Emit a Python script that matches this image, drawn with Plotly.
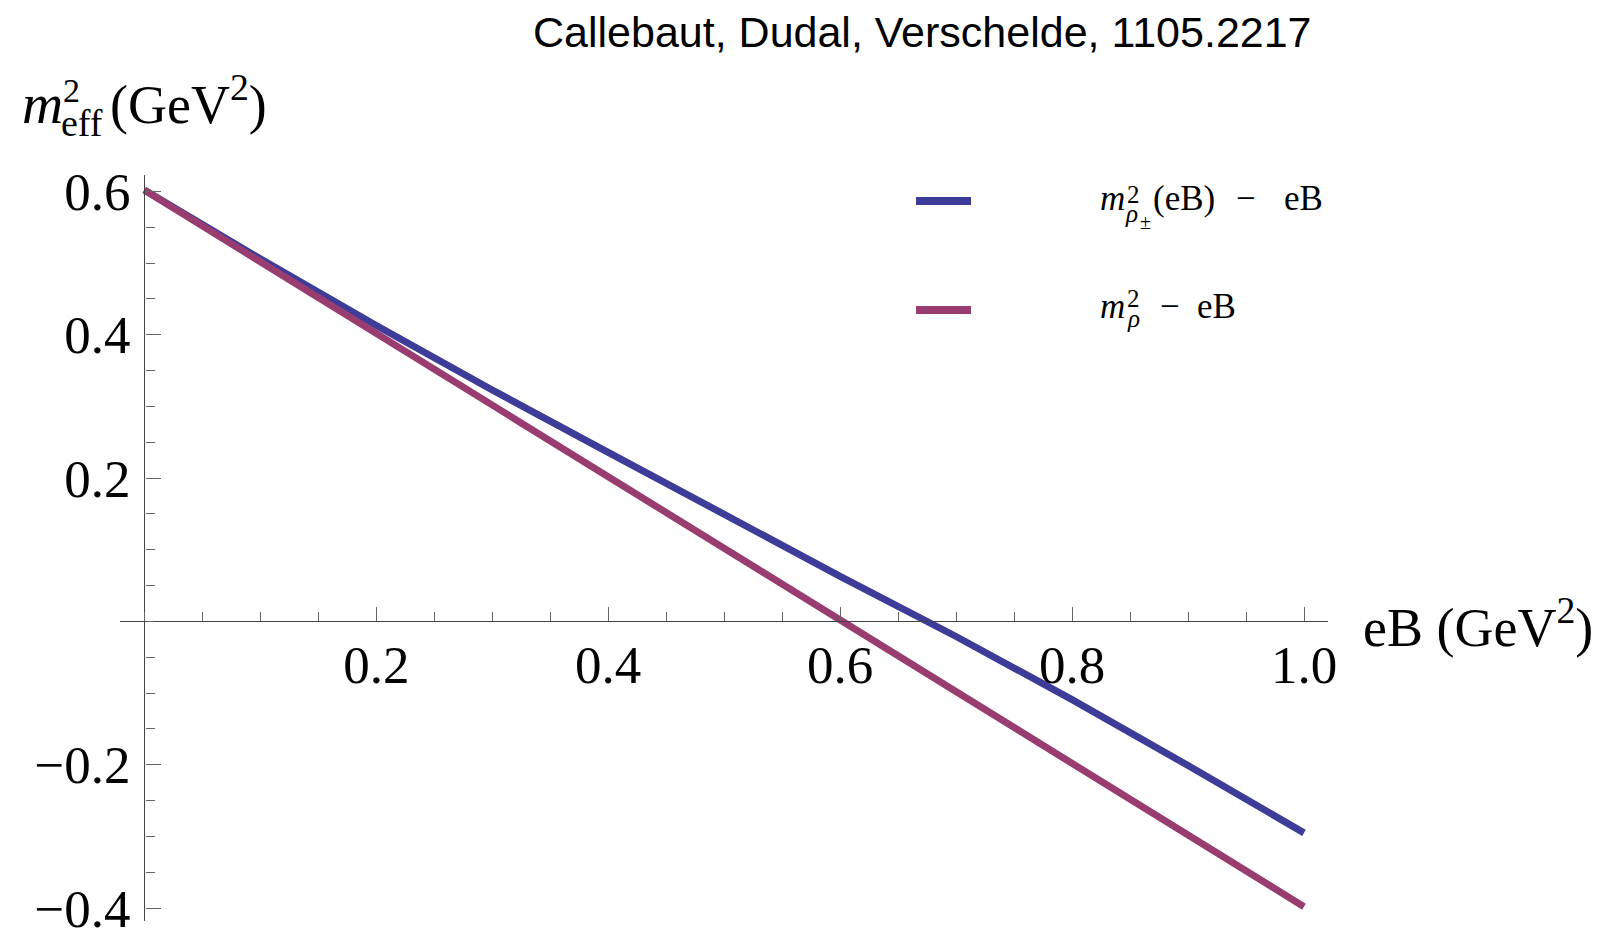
import plotly.graph_objects as go

# ---------------- data ----------------
eB = [0.0, 0.1, 0.2, 0.3, 0.4, 0.5, 0.6, 0.7, 0.8, 0.9, 1.0]
m_rho_pm_minus_eB = [0.602, 0.506, 0.413, 0.323, 0.236, 0.149, 0.063, -0.021, -0.109, -0.201, -0.295]
m_rho_minus_eB = [0.602, 0.502, 0.402, 0.302, 0.202, 0.102, 0.002, -0.098, -0.198, -0.298, -0.398]

x_tickvals = [0.2, 0.4, 0.6, 0.8, 1.0]
x_ticktext = ["0.2", "0.4", "0.6", "0.8", "1.0"]
y_tickvals = [-0.4, -0.2, 0.2, 0.4, 0.6]
y_ticktext = ["\u22120.4", "\u22120.2", "0.2", "0.4", "0.6"]

title_text = "Callebaut, Dudal, Verschelde, 1105.2217"

BLUE = "#3d3d99"
MAGENTA = "#993d71"
SERIF = "Liberation Serif"
SANS = "Liberation Sans"

XR = [-0.021, 1.0207]
YR = [-0.418, 0.623]

# plot area in pixels
PL, PR, PT, PB = 120, 1328, 175, 921
W, H = 1602, 929


def fx(px):
    return (px - PL) / (PR - PL)


def fy(py):
    return (PB - py) / (PB - PT)


fig = go.Figure()
fig.add_trace(go.Scatter(x=eB, y=m_rho_pm_minus_eB, mode="lines",
                         line=dict(color=BLUE, width=7), hoverinfo="skip"))
fig.add_trace(go.Scatter(x=eB, y=m_rho_minus_eB, mode="lines",
                         line=dict(color=MAGENTA, width=7), hoverinfo="skip"))

annotations = []


def txt(s, left, base, size, family=SERIF, desc=0.216, anchor="left"):
    annotations.append(dict(
        text=s, xref="paper", yref="paper", x=fx(left), y=fy(base + desc * size),
        xanchor=anchor, yanchor="bottom", showarrow=False, borderpad=0, borderwidth=0,
        font=dict(family=family, size=size, color="black")))


# title
txt(title_text, 922, 47, 43, family=SANS, desc=0.212, anchor="center")

# y-axis label
txt("<i>m</i>", 22, 123, 57)
txt("2", 63, 102, 34)
txt("eff", 61, 136, 38)
txt("(GeV<sup>2</sup>)", 110, 123, 54)

# x-axis label
txt("eB (GeV<sup>2</sup>)", 1363, 646, 54)

# legend texts
txt("<i>m</i>", 1100, 210, 35)
txt("2", 1127, 203, 25)
txt("<i>\u03c1</i>", 1125, 222, 25)
txt("\u00b1", 1140, 229, 20)
txt("(eB)", 1153, 210, 35)
txt("\u2212", 1236, 210, 35)
txt("eB", 1284, 210, 35)

txt("<i>m</i>", 1100, 318, 35)
txt("2", 1127, 307, 25)
txt("<i>\u03c1</i>", 1127, 327, 25)
txt("\u2212", 1160, 318, 35)
txt("eB", 1197, 318, 35)

shapes = [
    dict(type="line", xref="paper", yref="paper", x0=fx(916), x1=fx(971), y0=fy(201), y1=fy(201),
         line=dict(color=BLUE, width=8)),
    dict(type="line", xref="paper", yref="paper", x0=fx(916), x1=fx(971), y0=fy(310), y1=fy(310),
         line=dict(color=MAGENTA, width=8)),
]

xpos = (0 - YR[0]) / (YR[1] - YR[0])
ypos = (0 - XR[0]) / (XR[1] - XR[0])

AX = "#444444"
TK = "#666666"

fig.update_layout(
    width=W, height=H,
    margin=dict(l=PL, r=W - PR, t=PT, b=H - PB, pad=0),
    paper_bgcolor="white", plot_bgcolor="white",
    showlegend=False,
    annotations=annotations,
    shapes=shapes,
    xaxis=dict(range=XR, anchor="free", position=xpos, side="bottom",
               showline=True, linecolor=AX, linewidth=1.3,
               showgrid=False, zeroline=False, automargin=False,
               tickmode="array", tickvals=x_tickvals, ticktext=x_ticktext,
               ticks="inside", ticklen=14, tickwidth=1.3, tickcolor=TK,
               tickfont=dict(family=SERIF, size=53, color="black"),
               ticklabelstandoff=-3, ticklabeloverflow="allow",
               minor=dict(tickmode="linear", tick0=0, dtick=0.05, ticks="inside",
                          ticklen=9, tickwidth=1.2, tickcolor=TK, showgrid=False)),
    yaxis=dict(range=YR, anchor="free", position=ypos, side="left",
               showline=True, linecolor=AX, linewidth=1.3,
               showgrid=False, zeroline=False, automargin=False,
               tickmode="array", tickvals=y_tickvals, ticktext=y_ticktext,
               ticks="inside", ticklen=15, tickwidth=1.3, tickcolor=TK,
               tickfont=dict(family=SERIF, size=53, color="black"),
               ticklabelstandoff=3, ticklabeloverflow="allow",
               minor=dict(tickmode="linear", tick0=0, dtick=0.05, ticks="inside",
                          ticklen=9, tickwidth=1.2, tickcolor=TK, showgrid=False)),
)

fig.write_html("out.html")
